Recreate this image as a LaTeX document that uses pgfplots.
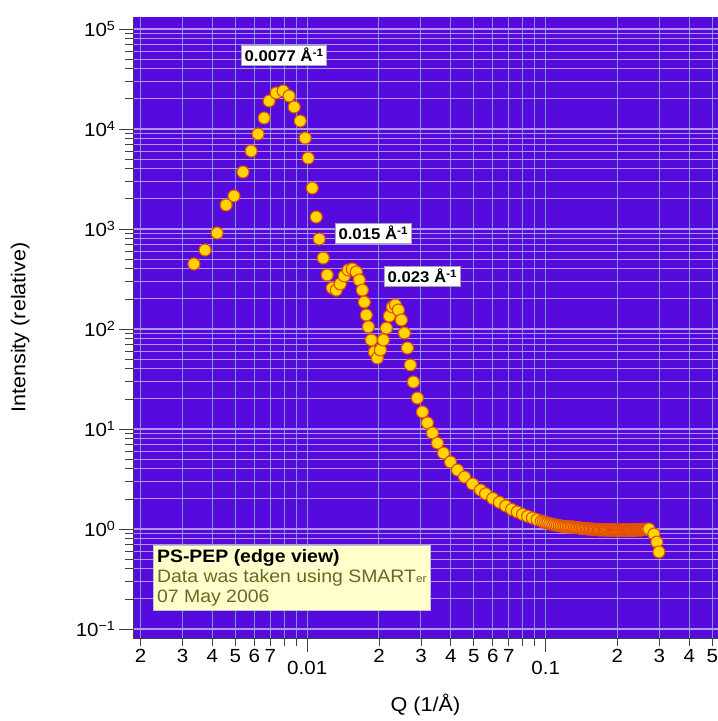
\documentclass[border=0pt]{standalone}
\usepackage{fontspec}
\setmainfont{Liberation Sans}[FakeStretch=1.08]
\usepackage{pgfplots}
\pgfplotsset{compat=1.18}

\definecolor{bgpurple}{RGB}{86,10,222}
\definecolor{hgrid}{RGB}{178,150,240}
\definecolor{vgrid}{RGB}{115,155,195}
\definecolor{dotfill}{RGB}{255,214,0}
\definecolor{dotedge}{RGB}{228,80,0}
\definecolor{notefill}{RGB}{255,255,204}
\definecolor{notetext}{RGB}{105,105,35}

% SMARTer data
\pgfplotstableread[row sep=\\]{
q I\\
0.00335 447\\ 0.00373 617\\ 0.00419 912\\ 0.00457 1738\\ 0.00493 2138\\
0.00538 3715\\ 0.00582 6026\\ 0.00622 8913\\ 0.00660 12882\\ 0.00692 19055\\
0.00741 22909\\ 0.00793 23988\\ 0.00840 21380\\ 0.00882 16596\\ 0.00935 12023\\
0.00981 8128\\ 0.01010 5129\\ 0.01050 2570\\ 0.01091 1318\\ 0.01123 794\\
0.01167 513\\ 0.01213 347\\ 0.01274 257\\ 0.01324 245\\ 0.01376 282\\
0.01430 339\\ 0.01487 389\\ 0.01546 398\\ 0.01607 372\\ 0.01654 309\\
0.01703 245\\ 0.01736 186\\ 0.01770 138\\ 0.01805 105\\ 0.01858 77.6\\
0.01913 58.9\\ 0.01969 51.3\\ 0.02027 61.7\\ 0.02086 77.6\\ 0.02148 102\\
0.02211 135\\ 0.02276 166\\ 0.02343 174\\ 0.02412 155\\ 0.02483 123\\
0.02556 91.2\\ 0.02632 64.6\\ 0.02709 43.7\\ 0.02789 29.5\\ 0.02899 20.4\\
0.03042 14.8\\ 0.03193 11.5\\ 0.03351 9.12\\ 0.03516 7.24\\ 0.03727 5.75\\
0.03988 4.68\\ 0.04268 3.89\\ 0.04568 3.31\\ 0.04935 2.82\\ 0.05333 2.45\\
0.056 2.25\\ 0.060 2.02\\ 0.064 1.85\\ 0.068 1.70\\ 0.072 1.57\\
0.076 1.48\\ 0.080 1.40\\ 0.084 1.34\\ 0.088 1.29\\ 0.092 1.24\\
0.096 1.20\\ 0.098 1.18\\ 0.100 1.16\\ 0.102 1.145\\ 0.104 1.13\\
0.106 1.12\\ 0.108 1.11\\ 0.110 1.10\\ 0.112 1.09\\ 0.114 1.08\\
0.116 1.07\\ 0.118 1.065\\ 0.120 1.06\\ 0.122 1.055\\ 0.124 1.05\\
0.126 1.05\\ 0.128 1.05\\ 0.130 1.045\\ 0.132 1.04\\ 0.134 1.035\\
0.136 1.03\\ 0.138 1.025\\ 0.140 1.02\\ 0.142 1.015\\ 0.144 1.01\\
0.146 1.01\\ 0.148 1.01\\ 0.150 1.005\\ 0.152 1.00\\ 0.154 1.00\\
0.156 1.00\\ 0.158 0.995\\ 0.160 0.99\\ 0.162 0.99\\ 0.164 0.99\\
0.166 0.985\\ 0.168 0.98\\ 0.170 0.98\\ 0.172 0.98\\ 0.174 0.985\\
0.176 0.98\\ 0.178 0.98\\ 0.180 0.975\\ 0.182 0.98\\ 0.184 0.98\\
0.186 0.98\\ 0.188 0.97\\ 0.190 0.975\\ 0.192 0.98\\ 0.194 0.98\\
0.196 0.98\\ 0.198 0.975\\ 0.200 0.98\\ 0.202 0.975\\ 0.204 0.97\\
0.206 0.975\\ 0.208 0.98\\ 0.210 0.98\\ 0.212 0.98\\ 0.214 0.975\\
0.216 0.97\\ 0.218 0.975\\ 0.220 0.98\\ 0.222 0.98\\ 0.224 0.98\\
0.226 0.975\\ 0.228 0.98\\ 0.230 0.975\\ 0.232 0.97\\ 0.234 0.975\\
0.236 0.98\\ 0.238 0.98\\ 0.240 0.98\\ 0.242 0.98\\ 0.244 0.98\\
0.246 0.985\\ 0.248 0.98\\ 0.250 0.98\\ 0.252 0.98\\ 0.254 0.985\\
0.256 0.99\\ 0.258 0.99\\ 0.260 0.99\\ 0.262 0.99\\ 0.264 0.99\\
0.266 0.995\\ 0.268 1.00\\ 0.271 1.00\\ 0.2844 0.89\\ 0.2926 0.74\\
0.2985 0.59\\
}\sans

\begin{document}
\begin{tikzpicture}
\begin{axis}[
    scale only axis,
    width=585pt, height=621pt,
    xmode=log, ymode=log,
    xmin=0.00186, xmax=0.528,
    ymin=0.0813, ymax=131800,
    axis background/.style={fill=bgpurple},
    axis x line*=bottom, axis y line*=left,
    axis line style={black!75, line width=0.8pt},
    tick align=outside,
    major tick length=14pt, minor tick length=8pt,
    tick style={black!75, line width=0.8pt},
    xtick={0.01,0.1},
    xticklabels={0.01,0.1},
    minor xtick={0.002,0.003,0.004,0.005,0.006,0.007,0.008,0.009,
                 0.02,0.03,0.04,0.05,0.06,0.07,0.08,0.09,
                 0.2,0.3,0.4,0.5},
    ytick={0.1,1,10,100,1000,10000,100000},
    yticklabels={10\textsuperscript{−1},10\textsuperscript{0},10\textsuperscript{1},
                 10\textsuperscript{2},10\textsuperscript{3},10\textsuperscript{4},10\textsuperscript{5}},
    minor ytick={0.2,0.3,0.4,0.5,0.6,0.7,0.8,0.9,
                 2,3,4,5,6,7,8,9,
                 20,30,40,50,60,70,80,90,
                 200,300,400,500,600,700,800,900,
                 2000,3000,4000,5000,6000,7000,8000,9000,
                 20000,30000,40000,50000,60000,70000,80000,90000},
    grid=both,
    x grid style={vgrid, line width=1pt},
    y grid style={hgrid, line width=1.1pt},
    xticklabel style={font=\fontsize{19}{19}\selectfont, yshift=-6pt},
    yticklabel style={font=\fontsize{19}{19}\selectfont},
    extra x ticks={0.002,0.003,0.004,0.005,0.006,0.007,
                   0.02,0.03,0.04,0.05,0.06,0.07,
                   0.2,0.3,0.4,0.5},
    extra x tick labels={2,3,4,5,6,7,2,3,4,5,6,7,2,3,4,5},
    extra x tick style={grid=none, major tick length=7pt,
                        tick label style={font=\fontsize{11}{11}\selectfont, yshift=5pt}},
    xlabel={Q (1/Å)},
    ylabel={Intensity (relative)},
    xlabel style={font=\fontsize{20}{20}\selectfont, at={(axis description cs:0.5,-0.108)}, anchor=center},
    ylabel style={font=\fontsize{20}{20}\selectfont, at={(axis description cs:-0.193,0.5)}, anchor=center},
]
\addplot[only marks, mark=*, mark size=6pt,
         mark options={fill=dotfill, draw=dotedge, line width=1.1pt}]
    table[x=q, y=I] {\sans};

\node[fill=white, draw=gray!70, inner sep=3pt, font=\bfseries\fontsize{15.5}{15.5}\selectfont]
    at (axis cs:0.0080,54950) {0.0077 Å\textsuperscript{-1}};
\node[fill=white, draw=gray!70, inner sep=3pt, font=\bfseries\fontsize{15.5}{15.5}\selectfont]
    at (axis cs:0.01893,912) {0.015 Å\textsuperscript{-1}};
\node[fill=white, draw=gray!70, inner sep=3pt, font=\bfseries\fontsize{15.5}{15.5}\selectfont]
    at (axis cs:0.03042,339) {0.023 Å\textsuperscript{-1}};

\node[anchor=north west, fill=notefill, draw=gray!50, inner sep=4pt, align=left,
      font=\fontsize{18}{20}\selectfont]
    at (rel axis cs:0.034,0.150)
    {\textbf{PS-PEP (edge view)}\\
     \textcolor{notetext}{Data was taken using SMART{\fontsize{11}{11}\selectfont er}}\\
     \textcolor{notetext}{07 May 2006}};
\end{axis}
\pgfresetboundingbox
\path ([shift={(-133pt,-83pt)}]current axis.south west)
    rectangle ([shift={(0pt,17pt)}]current axis.north east);
\end{tikzpicture}
\end{document}
